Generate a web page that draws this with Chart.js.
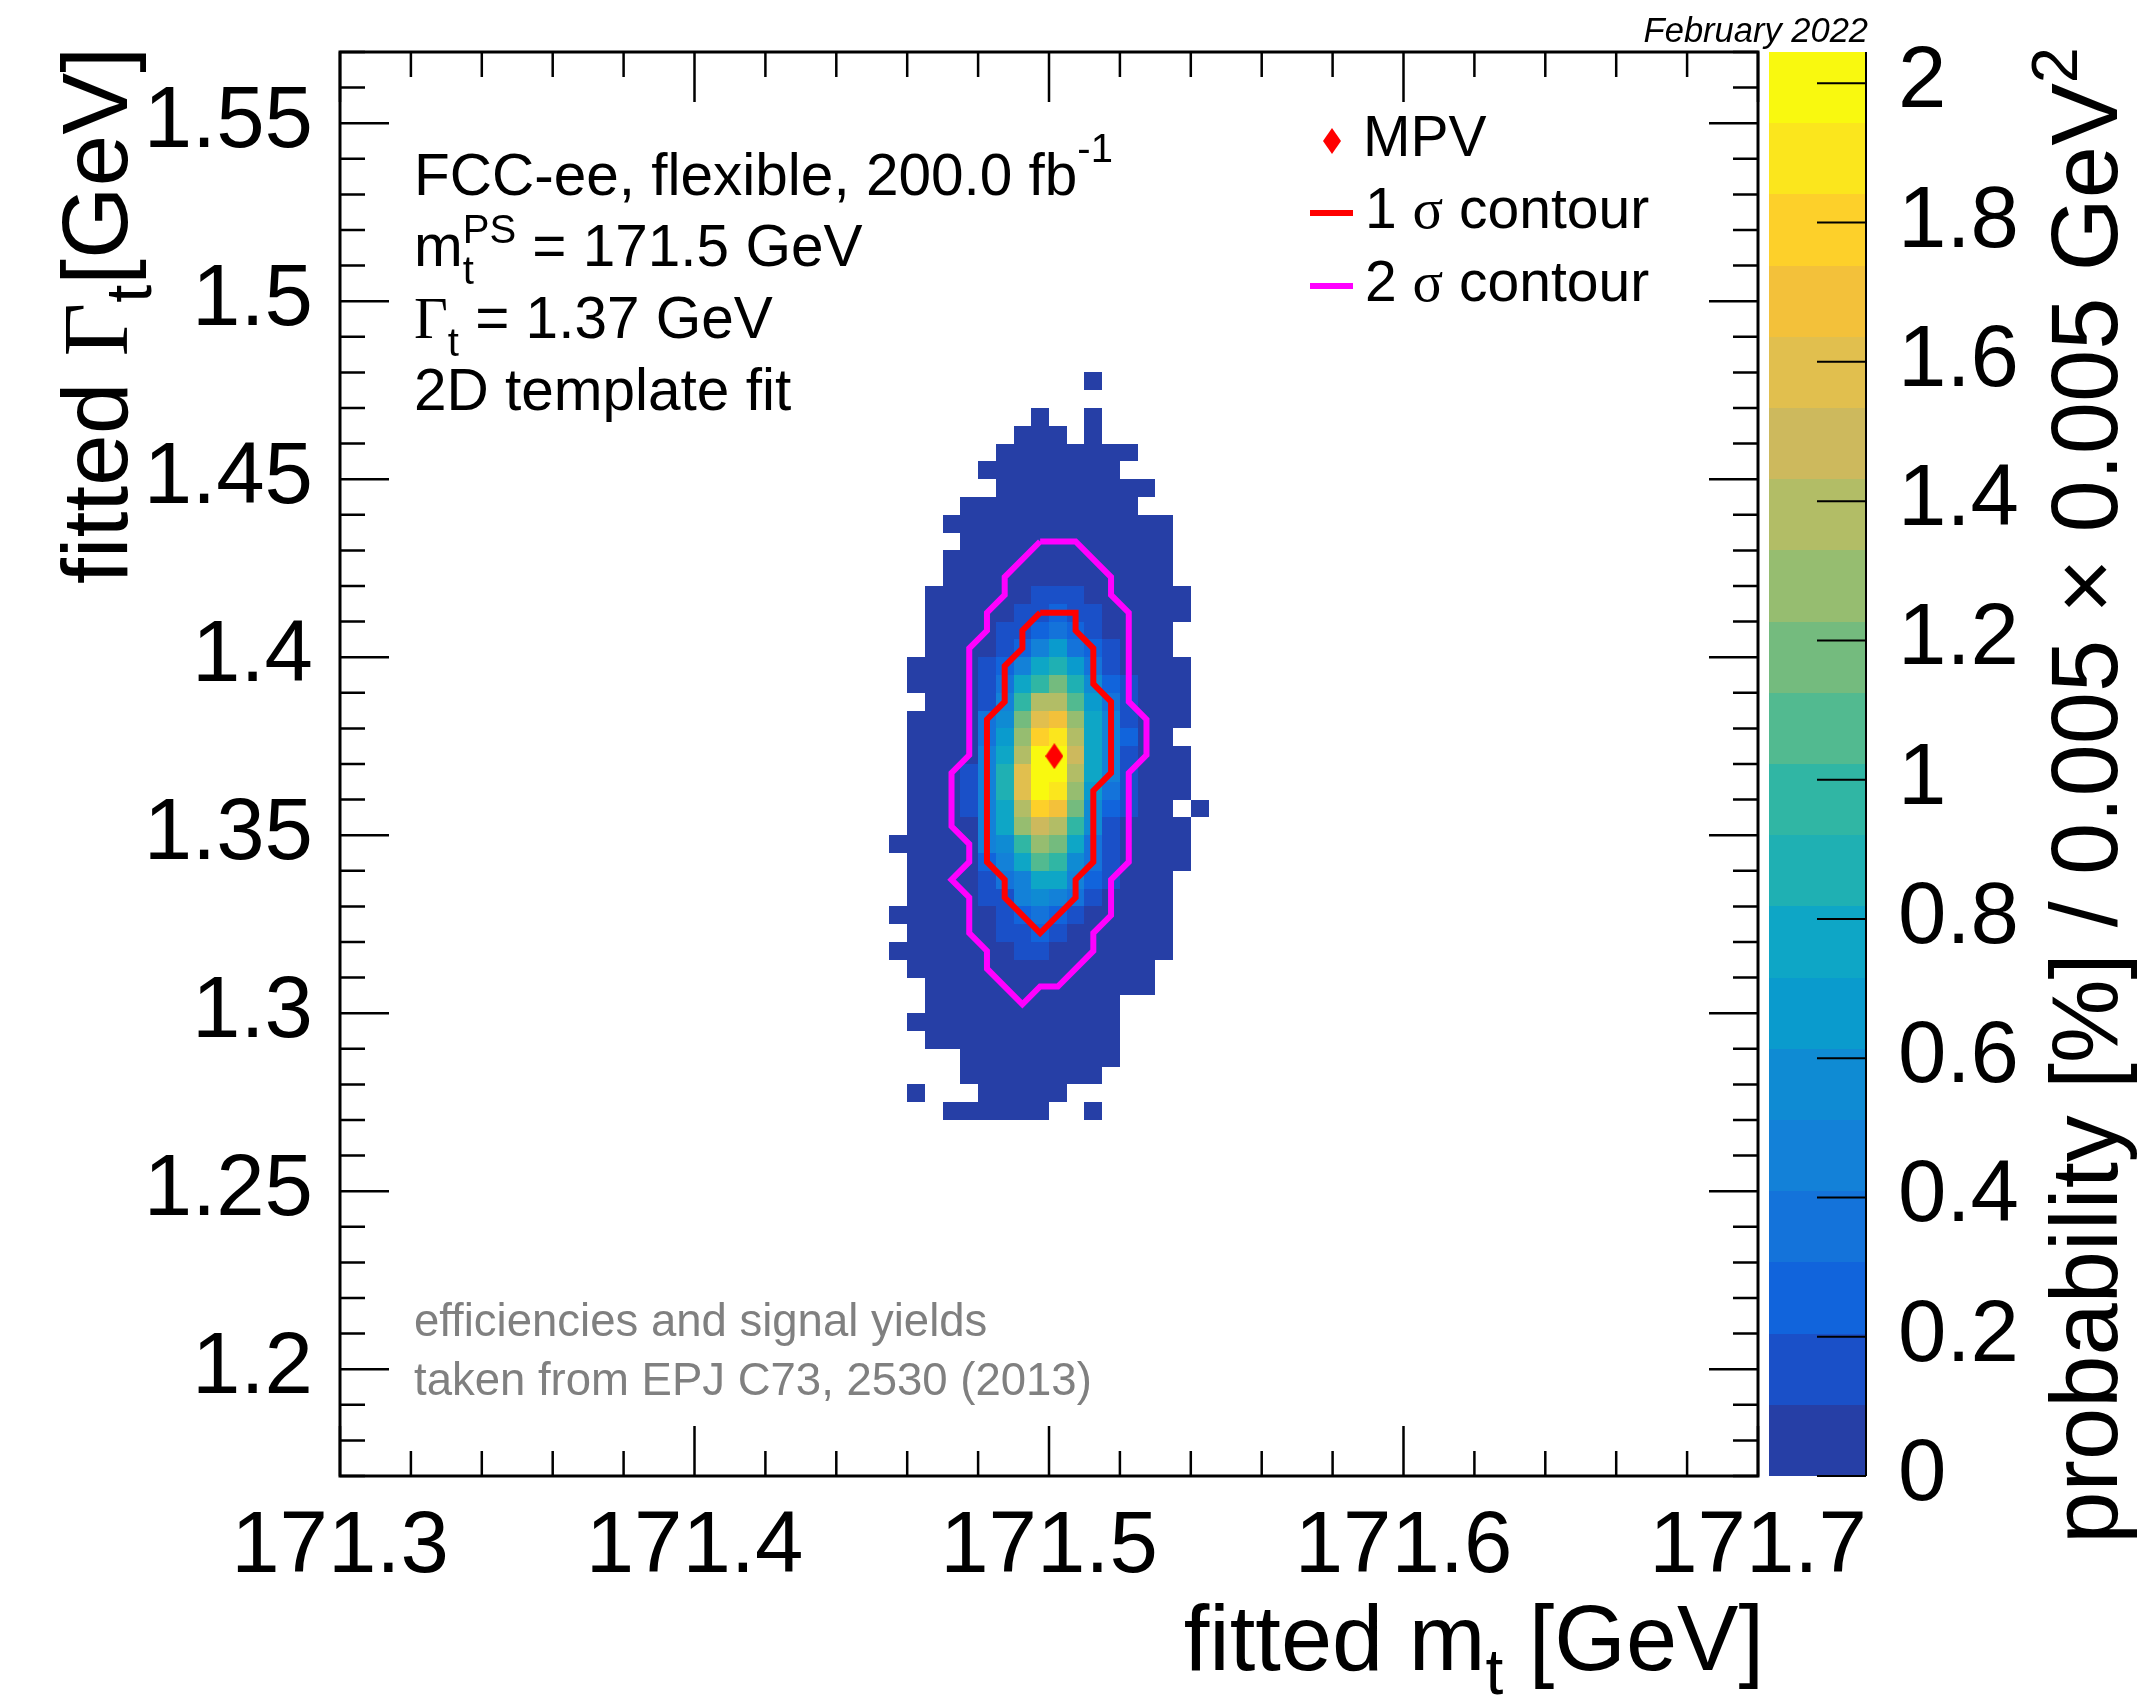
<!DOCTYPE html>
<html>
<head>
<meta charset="utf-8">
<title>fitted top mass and width</title>
<script src="https://cdn.jsdelivr.net/npm/chart.js@4.4.1/dist/chart.umd.min.js"></script>
<style>
html, body { margin: 0; padding: 0; background: #fff; }
canvas { display: block; }
</style>
</head>
<body>
<canvas id="myChart" width="2142" height="1704"></canvas>
<script>
// bin centres of the 2D histogram (GeV)
const massBins = [171.4575, 171.4625, 171.4675, 171.4725, 171.4775, 171.4825, 171.4875, 171.4925, 171.4975,
                  171.5025, 171.5075, 171.5125, 171.5175, 171.5225, 171.5275, 171.5325, 171.5375, 171.5425];
const gammaBins = [1.4775, 1.4725, 1.4675, 1.4625, 1.4575, 1.4525, 1.4475, 1.4425, 1.4375, 1.4325, 1.4275,
                   1.4225, 1.4175, 1.4125, 1.4075, 1.4025, 1.3975, 1.3925, 1.3875, 1.3825, 1.3775, 1.3725,
                   1.3675, 1.3625, 1.3575, 1.3525, 1.3475, 1.3425, 1.3375, 1.3325, 1.3275, 1.3225, 1.3175,
                   1.3125, 1.3075, 1.3025, 1.2975, 1.2925, 1.2875, 1.2825, 1.2775, 1.2725];
const binWidth = 0.005;

// probability [%] per bin, one row per gammaBins entry (top to bottom), one column per massBins entry
const prob = [
    [0,0,0,0,0,0,0,0,0,0,0,.01,0,0,0,0,0,0],
    [0,0,0,0,0,0,0,0,0,0,0,0,0,0,0,0,0,0],
    [0,0,0,0,0,0,0,0,.01,0,0,.01,0,0,0,0,0,0],
    [0,0,0,0,0,0,0,.01,.01,.01,0,.01,0,0,0,0,0,0],
    [0,0,0,0,0,0,.01,.02,.02,.02,.02,.02,.01,.01,0,0,0,0],
    [0,0,0,0,0,.01,.02,.02,.03,.03,.02,.02,.01,0,0,0,0,0],
    [0,0,0,0,0,0,.02,.03,.03,.03,.03,.02,.02,.01,.01,0,0,0],
    [0,0,0,0,.01,.02,.03,.04,.04,.04,.03,.03,.02,.01,0,0,0,0],
    [0,0,0,.01,.01,.02,.03,.04,.05,.05,.04,.04,.03,.02,.01,.01,0,0],
    [0,0,0,0,.01,.02,.04,.05,.06,.06,.05,.05,.03,.02,.01,.01,0,0],
    [0,0,0,.01,.02,.03,.04,.06,.07,.07,.07,.06,.04,.03,.02,.01,0,0],
    [0,0,0,.01,.02,.03,.05,.07,.08,.09,.08,.07,.05,.03,.02,.01,0,0],
    [0,0,.01,.01,.02,.04,.06,.09,.13,.15,.13,.09,.06,.04,.02,.01,.01,0],
    [0,0,.01,.02,.03,.05,.08,.14,.19,.22,.18,.12,.07,.04,.02,.01,.01,0],
    [0,0,.01,.02,.04,.07,.12,.19,.27,.33,.25,.16,.09,.05,.02,.01,0,0],
    [0,0,.01,.03,.05,.09,.16,.26,.48,.64,.36,.24,.13,.07,.03,.01,0,0],
    [0,.01,.02,.03,.07,.14,.25,.47,.76,.88,.66,.35,.17,.08,.04,.02,.01,0],
    [0,.01,.02,.04,.08,.17,.36,.76,1.0,1.18,.88,.55,.26,.13,.05,.02,.01,0],
    [0,0,.02,.04,.09,.18,.46,.98,1.38,1.4,1.07,.64,.35,.15,.06,.03,.01,0],
    [0,.01,.03,.05,.09,.33,.56,1.18,1.6,1.7,1.28,.77,.45,.17,.07,.03,.01,0],
    [0,.01,.03,.05,.1,.36,.66,1.28,1.79,1.9,1.38,.78,.46,.24,.08,.03,0,0],
    [0,.02,.03,.06,.1,.45,.76,1.38,1.98,2.02,1.48,.77,.46,.16,.08,.04,.01,0],
    [0,.02,.04,.06,.12,.47,.87,1.58,2.04,1.99,1.38,.77,.44,.15,.07,.03,.01,0],
    [0,.01,.03,.06,.12,.45,.88,1.57,1.96,1.9,1.28,.65,.34,.13,.06,.03,.01,0],
    [0,.01,.03,.05,.11,.44,.77,1.38,1.78,1.68,1.17,.55,.25,.12,.05,.02,0,.01],
    [0,.01,.02,.05,.09,.44,.76,1.27,1.48,1.37,.97,.54,.16,.08,.04,.02,.01,0],
    [.01,.01,.02,.04,.08,.43,.55,.97,1.27,1.16,.76,.34,.15,.07,.04,.02,.01,0],
    [0,.01,.02,.04,.07,.25,.45,.76,1.06,.96,.55,.33,.14,.06,.03,.02,.01,0],
    [0,.01,.02,.03,.06,.14,.34,.45,.74,.73,.44,.24,.12,.05,.02,.01,0,0],
    [0,.01,.02,.03,.05,.12,.16,.44,.54,.45,.34,.14,.08,.04,.02,.01,0,0],
    [.01,.01,.02,.03,.04,.08,.15,.24,.35,.26,.14,.09,.06,.03,.02,.01,0,0],
    [0,.01,.02,.02,.04,.07,.12,.16,.24,.14,.09,.06,.04,.02,.01,.01,0,0],
    [.01,.01,.02,.03,.04,.06,.09,.13,.14,.1,.07,.05,.03,.02,.01,.01,0,0],
    [0,.01,.02,.02,.03,.04,.06,.07,.08,.06,.05,.04,.02,.01,.01,0,0,0],
    [0,0,.01,.02,.03,.04,.05,.06,.06,.05,.04,.03,.02,.01,.01,0,0,0],
    [0,0,.01,.02,.02,.03,.04,.05,.04,.04,.03,.02,.01,0,0,0,0,0],
    [0,.01,.01,.02,.02,.03,.04,.04,.03,.03,.02,.01,.01,0,0,0,0,0],
    [0,0,.01,.01,.02,.03,.03,.03,.03,.02,.02,.01,.01,0,0,0,0,0],
    [0,0,0,0,.01,.02,.02,.03,.02,.02,.02,.01,.01,0,0,0,0,0],
    [0,0,0,0,.01,.01,.02,.02,.02,.01,.01,.01,0,0,0,0,0,0],
    [0,.01,0,0,0,.01,.01,.02,.01,.01,0,0,0,0,0,0,0,0],
    [0,0,0,.01,.01,.01,.01,.01,.01,0,0,.01,0,0,0,0,0,0]
];
const zMax = 2.045;

// most probable value and the contours
const mpvX = [171.5015];
const mpvY = [1.3722];
const sigma1X = [171.4975, 171.5075, 171.5075, 171.5125, 171.5125, 171.5175, 171.5175, 171.5125, 171.5125, 171.5075, 171.5075,
                 171.4975, 171.4875, 171.4875, 171.4825, 171.4825, 171.4875, 171.4875, 171.4925, 171.4925, 171.4975];
const sigma1Y = [1.4125, 1.4125, 1.4075, 1.4025, 1.3925, 1.3875, 1.3675, 1.3625, 1.3425, 1.3375, 1.3325,
                 1.3225, 1.3325, 1.3375, 1.3425, 1.3825, 1.3875, 1.3975, 1.4025, 1.4075, 1.4125];
const sigma2X = [171.4975, 171.5075, 171.5175, 171.5175, 171.5225, 171.5225, 171.5275, 171.5275, 171.5225, 171.5225, 171.5175,
                 171.5175, 171.5125, 171.5125, 171.5025, 171.4975, 171.4925, 171.4825, 171.4825, 171.4775, 171.4775, 171.4725,
                 171.4775, 171.4775, 171.4725, 171.4725, 171.4775, 171.4775, 171.4825, 171.4825, 171.4875, 171.4875, 171.4975];
const sigma2Y = [1.4325, 1.4325, 1.4225, 1.4175, 1.4125, 1.3875, 1.3825, 1.3725, 1.3675, 1.3425, 1.3375,
                 1.3275, 1.3225, 1.3175, 1.3075, 1.3075, 1.3025, 1.3125, 1.3175, 1.3225, 1.3325, 1.3375,
                 1.3425, 1.3475, 1.3525, 1.3675, 1.3725, 1.4025, 1.4075, 1.4125, 1.4175, 1.4225, 1.4325];

// tick labels
const xLabels = [171.3, 171.4, 171.5, 171.6, 171.7];
const yLabels = [1.2, 1.25, 1.3, 1.35, 1.4, 1.45, 1.5, 1.55];
const zLabels = [0, 0.2, 0.4, 0.6, 0.8, 1, 1.2, 1.4, 1.6, 1.8, 2];

// bird palette, 20 levels from 0 to zMax
const palette = ['#263fa6', '#1a50c8', '#1164dc', '#1473da', '#1381d8', '#0f8bd3', '#0a9bcd', '#0ea6c6', '#1fb0b3', '#30b6a4',
                 '#52ba90', '#74bb7e', '#96bd70', '#b2bd66', '#cdb95d', '#e1bf4e', '#f3c13a', '#fdd02a', '#fbe61d', '#f9f90f'];

const SANS = "'Liberation Sans', Arial, Helvetica, sans-serif";
const SERIF = "'Liberation Serif', 'Times New Roman', serif";

function colourFor(v) {
    let k = Math.floor(v / zMax * palette.length);
    return palette[Math.min(palette.length - 1, Math.max(0, k))];
}

function pickLabel(list, v) {
    let hit = list.find((l) => Math.abs(l - v) < 1e-9);
    return hit === undefined ? '' : String(hit);
}

function toPoints(xs, ys) {
    return xs.map((x, i) => ({ x: x, y: ys[i] }));
}

function makeDiamond(w, h, color) {
    const c = document.createElement('canvas');
    c.width = w;
    c.height = h;
    const g = c.getContext('2d');
    g.fillStyle = color;
    g.beginPath();
    g.moveTo(w / 2, 0);
    g.lineTo(w, h / 2);
    g.lineTo(w / 2, h);
    g.lineTo(0, h / 2);
    g.closePath();
    g.fill();
    return c;
}

function fixSize(prop, size) {
    return (scale) => {
        scale[prop] = size;
        scale.paddingLeft = 0;
        scale.paddingRight = 0;
        scale.paddingTop = 0;
        scale.paddingBottom = 0;
    };
}

// text with sub/superscripts: parts = [{t, size, dy, family, style, stack}]
function drawRich(ctx, parts, x, y, align) {
    let widths = parts.map((p) => {
        ctx.font = (p.style || '') + ' ' + p.size + 'px ' + (p.family || SANS);
        return p.stack ? 0 : ctx.measureText(p.t).width;
    });
    let total = widths.reduce((a, b) => a + b, 0);
    let cx = align === 'right' ? x - total : x;
    ctx.textAlign = 'left';
    ctx.textBaseline = 'alphabetic';
    parts.forEach((p, i) => {
        ctx.font = (p.style || '') + ' ' + p.size + 'px ' + (p.family || SANS);
        ctx.fillText(p.t, cx, y + (p.dy || 0));
        cx += widths[i];
    });
}

const heatmapPlugin = {
    id: 'heatmap',
    beforeDatasetsDraw(chart) {
        const { ctx } = chart;
        const xs = chart.scales.x, ys = chart.scales.y;
        ctx.save();
        for (let r = 0; r < gammaBins.length; r++) {
            for (let c = 0; c < massBins.length; c++) {
                let v = prob[r][c];
                if (!(v > 0)) continue;
                let x0 = Math.round(xs.getPixelForValue(massBins[c] - binWidth / 2));
                let x1 = Math.round(xs.getPixelForValue(massBins[c] + binWidth / 2));
                let y0 = Math.round(ys.getPixelForValue(gammaBins[r] + binWidth / 2));
                let y1 = Math.round(ys.getPixelForValue(gammaBins[r] - binWidth / 2));
                ctx.fillStyle = colourFor(v);
                ctx.fillRect(x0, y0, x1 - x0, y1 - y0);
            }
        }
        ctx.restore();
    }
};

const framePlugin = {
    id: 'frameAxes',
    afterDraw(chart) {
        const { ctx, chartArea: a } = chart;
        const xs = chart.scales.x, ys = chart.scales.y, zs = chart.scales.z;
        ctx.save();
        ctx.strokeStyle = '#000';

        // ticks pointing into the frame
        ctx.lineWidth = 2.5;
        ctx.beginPath();
        xs.ticks.forEach((t) => {
            let px = xs.getPixelForValue(t.value);
            let len = t.label ? 50 : 25;
            ctx.moveTo(px, a.bottom);
            ctx.lineTo(px, a.bottom - len);
            ctx.moveTo(px, a.top);
            ctx.lineTo(px, a.top + len);
        });
        ys.ticks.forEach((t) => {
            let py = ys.getPixelForValue(t.value);
            let len = t.label ? 49 : 25;
            ctx.moveTo(a.left, py);
            ctx.lineTo(a.left + len, py);
            ctx.moveTo(a.right, py);
            ctx.lineTo(a.right - len, py);
        });
        ctx.stroke();

        ctx.lineWidth = 3;
        ctx.strokeRect(a.left, a.top, a.right - a.left, a.bottom - a.top);

        // colour bar
        let barRight = zs.left;
        let barLeft = a.right + 11;
        for (let k = 0; k < palette.length; k++) {
            let yb = zs.getPixelForValue(k * zMax / palette.length);
            let yt = zs.getPixelForValue((k + 1) * zMax / palette.length);
            ctx.fillStyle = palette[k];
            ctx.fillRect(barLeft, Math.round(yt), barRight - barLeft, Math.round(yb) - Math.round(yt));
        }
        ctx.lineWidth = 2;
        ctx.beginPath();
        ctx.moveTo(barRight, zs.top);
        ctx.lineTo(barRight, zs.bottom);
        zs.ticks.forEach((t) => {
            let py = zs.getPixelForValue(t.value);
            ctx.moveTo(barRight, py);
            ctx.lineTo(barRight - 49, py);
        });
        ctx.stroke();
        ctx.restore();
    }
};

const textPlugin = {
    id: 'texts',
    afterDraw(chart) {
        const { ctx } = chart;
        ctx.save();
        ctx.fillStyle = '#000';

        // info block
        drawRich(ctx, [{ t: 'FCC-ee, flexible, 200.0 fb', size: 58.5 }, { t: '-1', size: 40, dy: -33 }], 414, 195);
        drawRich(ctx, [{ t: 'm', size: 58.5 }, { t: 't', size: 40, dy: 18, stack: true }, { t: 'PS', size: 40, dy: -23 },
                       { t: ' = 171.5 GeV', size: 58.5 }], 414, 266);
        drawRich(ctx, [{ t: 'Γ', size: 58.5, family: SERIF }, { t: 't', size: 40, dy: 18 }, { t: ' = 1.37 GeV', size: 58.5 }], 414, 338);
        drawRich(ctx, [{ t: '2D template fit', size: 58.5 }], 414, 410);

        ctx.fillStyle = '#808080';
        drawRich(ctx, [{ t: 'efficiencies and signal yields', size: 45.5 }], 414, 1336);
        drawRich(ctx, [{ t: 'taken from EPJ C73, 2530 (2013)', size: 45.5 }], 414, 1395);

        // legend
        ctx.fillStyle = '#000';
        ctx.drawImage(makeDiamond(18, 26, '#ff0000'), 1323, 128);
        drawRich(ctx, [{ t: 'MPV', size: 57 }], 1363, 156);
        ctx.lineWidth = 6;
        ctx.strokeStyle = '#ff0000';
        ctx.beginPath();
        ctx.moveTo(1310, 213);
        ctx.lineTo(1353, 213);
        ctx.stroke();
        ctx.strokeStyle = '#ff00ff';
        ctx.beginPath();
        ctx.moveTo(1310, 286);
        ctx.lineTo(1353, 286);
        ctx.stroke();
        drawRich(ctx, [{ t: '1 ', size: 57 }, { t: 'σ', size: 57, family: SERIF }, { t: ' contour', size: 57 }], 1365, 228);
        drawRich(ctx, [{ t: '2 ', size: 57 }, { t: 'σ', size: 57, family: SERIF }, { t: ' contour', size: 57 }], 1365, 301);

        // date stamp
        drawRich(ctx, [{ t: 'February 2022', size: 34.5, style: 'italic' }], 1868, 42, 'right');

        // axis titles
        drawRich(ctx, [{ t: 'fitted m', size: 92 }, { t: 't', size: 64, dy: 24 }, { t: ' [GeV]', size: 92 }], 1764, 1670, 'right');

        ctx.save();
        ctx.translate(127, 47);
        ctx.rotate(-Math.PI / 2);
        drawRich(ctx, [{ t: 'fitted ', size: 93 }, { t: 'Γ', size: 93, family: SERIF }, { t: 't', size: 65, dy: 24 },
                       { t: '[GeV]', size: 93 }], 0, 0, 'right');
        ctx.restore();

        ctx.save();
        ctx.translate(2117, 47);
        ctx.rotate(-Math.PI / 2);
        drawRich(ctx, [{ t: 'probability [%] / 0.005 × 0.005 GeV', size: 94 }, { t: '2', size: 65, dy: -40 }], 0, 0, 'right');
        ctx.restore();

        ctx.restore();
    }
};

const ctx = document.getElementById('myChart').getContext('2d');
let chart = new Chart(ctx, {
    type: 'scatter',
    data: {
        datasets: [
            {
                label: 'MPV',
                data: toPoints(mpvX, mpvY),
                pointStyle: makeDiamond(18, 26, '#ff0000'),
                pointRadius: 13,
                xAxisID: 'x',
                yAxisID: 'y'
            },
            {
                label: '1 σ contour',
                data: toPoints(sigma1X, sigma1Y),
                showLine: true,
                borderColor: '#ff0000',
                borderWidth: 6,
                pointRadius: 0,
                tension: 0,
                fill: false,
                xAxisID: 'x',
                yAxisID: 'y'
            },
            {
                label: '2 σ contour',
                data: toPoints(sigma2X, sigma2Y),
                showLine: true,
                borderColor: '#ff00ff',
                borderWidth: 6,
                pointRadius: 0,
                tension: 0,
                fill: false,
                xAxisID: 'x',
                yAxisID: 'y'
            }
        ]
    },
    options: {
        responsive: false,
        devicePixelRatio: 1,
        animation: false,
        events: [],
        layout: { padding: { top: 52, left: 0, right: 0, bottom: 0 } },
        plugins: {
            legend: { display: false },
            tooltip: { enabled: false },
            title: { display: false }
        },
        scales: {
            x: {
                type: 'linear', axis: 'x', position: 'bottom',
                min: 171.3, max: 171.7,
                grid: { display: false, drawTicks: false },
                border: { display: false },
                ticks: {
                    stepSize: 0.02, autoSkip: false, maxRotation: 0, includeBounds: false,
                    padding: 20, color: '#000', font: { family: SANS, size: 87 },
                    callback: (v) => pickLabel(xLabels, v)
                },
                afterFit: fixSize('height', 228)
            },
            y: {
                type: 'linear', axis: 'y', position: 'left',
                min: 1.17, max: 1.57,
                grid: { display: false, drawTicks: false },
                border: { display: false },
                ticks: {
                    stepSize: 0.01, autoSkip: false, includeBounds: false,
                    padding: 27, color: '#000', font: { family: SANS, size: 87 },
                    callback: (v) => pickLabel(yLabels, v)
                },
                afterFit: fixSize('width', 340)
            },
            gap: {
                type: 'linear', axis: 'y', position: 'right', weight: 0,
                min: 0, max: 1,
                grid: { display: false, drawTicks: false },
                border: { display: false },
                ticks: { display: false },
                afterFit: fixSize('width', 108)
            },
            z: {
                type: 'linear', axis: 'y', position: 'right', weight: 1,
                min: 0, max: zMax,
                grid: { display: false, drawTicks: false },
                border: { display: false },
                ticks: {
                    stepSize: 0.2, autoSkip: false, includeBounds: false,
                    padding: 32, color: '#000', font: { family: SANS, size: 87 },
                    callback: (v) => pickLabel(zLabels, v)
                },
                afterFit: fixSize('width', 276)
            }
        }
    },
    plugins: [heatmapPlugin, framePlugin, textPlugin]
});
</script>
</body>
</html>
